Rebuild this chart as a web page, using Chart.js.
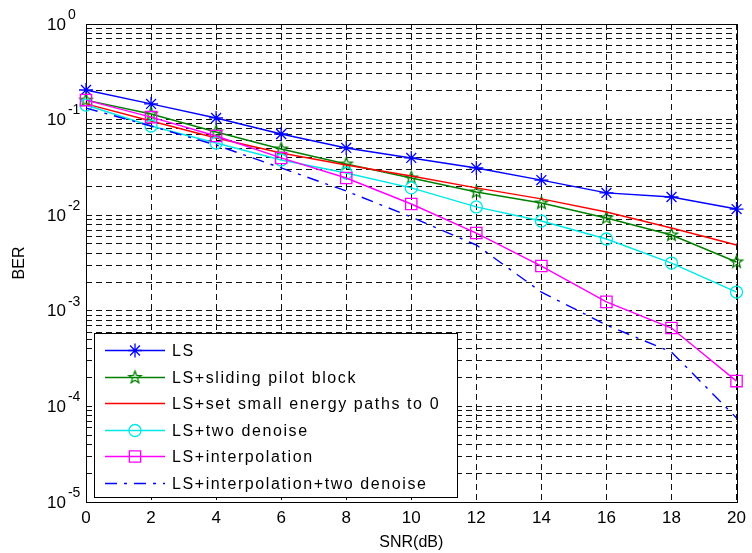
<!DOCTYPE html>
<html>
<head>
<meta charset="utf-8">
<title>BER vs SNR</title>
<script src="https://cdn.jsdelivr.net/npm/chart.js@4"></script>
<style>
    html, body { margin: 0; padding: 0; background: #fff; }
    #wrap { width: 752px; height: 553px; }
</style>
</head>
<body>
<div id="wrap"><canvas id="ber"></canvas></div>
<script>
    // SNR (dB) on the x axis
    const snr = [0, 2, 4, 6, 8, 10, 12, 14, 16, 18, 20];

    // BER values
    const berLS           = [0.204, 0.146, 0.104, 0.0707, 0.0505, 0.0397, 0.0312, 0.0233, 0.0171, 0.0155, 0.0116];
    const berSliding      = [0.160, 0.1145, 0.0742, 0.0492, 0.0343, 0.0245, 0.0175, 0.0134, 0.00935, 0.00621, 0.00324];
    const berSmallPaths   = [0.146, 0.0967, 0.0642, 0.0447, 0.0335, 0.0257, 0.0193, 0.0148, 0.0108, 0.00734, 0.00488];
    const berTwoDenoise   = [0.142, 0.0857, 0.0569, 0.0378, 0.0276, 0.0193, 0.0122, 0.00869, 0.00564, 0.00316, 0.00157];
    const berInterp       = [0.160, 0.106, 0.0673, 0.0397, 0.0245, 0.0131, 0.00651, 0.00294, 0.00124, 0.00066, 0.000184];
    const berInterpDenoise = [0.132, 0.0857, 0.0542, 0.0312, 0.0179, 0.00957, 0.00488, 0.00157, 0.00071, 0.00037, 0.0000757];

    // decades labelled on the y axis (10^e)
    const yDecades = [0, -1, -2, -3, -4, -5];

    const FONT = '"Liberation Sans", Arial, sans-serif';

    // hollow five pointed star, like matlab's 'p' marker
    function makePentagram(color, r) {
        const c = document.createElement('canvas');
        const s = Math.ceil(r * 2 + 4);
        c.width = s; c.height = s;
        const g = c.getContext('2d');
        g.strokeStyle = color;
        g.lineWidth = 1.3;
        g.beginPath();
        for (let k = 0; k < 10; k++) {
            const rad = k % 2 === 0 ? r : r * 0.42;
            const a = -Math.PI / 2 + k * Math.PI / 5;
            const px = s / 2 + rad * Math.cos(a), py = s / 2 + rad * Math.sin(a);
            if (k) g.lineTo(px, py); else g.moveTo(px, py);
        }
        g.closePath();
        g.stroke();
        return c;
    }

    // grid values: 1..9 in every decade
    const yGrid = [];
    for (let e = -5; e < 0; e++) {
        for (let m = 1; m < 10; m++) yGrid.push(m * Math.pow(10, e));
    }
    yGrid.push(1);

    function series(label, values, color, style, radius, dash) {
        return {
            label: label,
            data: snr.map((x, i) => ({x: x, y: values[i]})),
            borderColor: color,
            backgroundColor: 'rgba(0,0,0,0)',
            borderWidth: 1.4,
            borderDash: dash || [],
            pointStyle: style,
            pointRadius: radius,
            pointBorderColor: color,
            pointBackgroundColor: 'rgba(0,0,0,0)',
            pointBorderWidth: 1.3,
            tension: 0,
            clip: false
        };
    }

    const datasets = [
        series('LS', berLS, '#0000ff', 'star', 7),
        series('LS+sliding pilot block', berSliding, '#008000', makePentagram('#008000', 6.5), 6),
        series('LS+set small energy paths to 0', berSmallPaths, '#ff0000', 'circle', 0),
        series('LS+two denoise', berTwoDenoise, '#00e8e8', 'circle', 6),
        series('LS+interpolation', berInterp, '#ff00ff', 'rect', 8),
        series('LS+interpolation+two denoise', berInterpDenoise, '#0000ff', 'circle', 0, [12, 7, 3, 7])
    ];
    // matlab draws later lines on top
    datasets.forEach((d, i) => { d.order = datasets.length - i; });

    // frame around the axes, y labels with exponents and the boxed legend
    const decor = {
        id: 'decor',
        beforeDatasetsDraw(chart) {
            const {ctx, chartArea: a} = chart;
            ctx.save();
            ctx.strokeStyle = '#000';
            ctx.lineWidth = 1;
            ctx.strokeRect(Math.round(a.left) + 0.5, Math.round(a.top) + 0.5,
                Math.round(a.right - a.left), Math.round(a.bottom - a.top));
            ctx.restore();
        },
        afterDraw(chart) {
            const {ctx, chartArea: a} = chart;
            const ys = chart.scales.y;
            ctx.save();
            ctx.fillStyle = '#000';
            ctx.textAlign = 'left';
            ctx.textBaseline = 'middle';
            yDecades.forEach(e => {
                const y = ys.getPixelForValue(Math.pow(10, e));
                ctx.font = '17px ' + FONT;
                ctx.fillText('10', 47, y + 1);
                const w = ctx.measureText('10').width;
                ctx.font = '14px ' + FONT;
                ctx.fillText(e === 0 ? '0' : '-' + (-e), 47 + w + 2, y - 9);
            });

            // legend box
            const bx = a.left + 8, bw = 363, bh = 164;
            const by = a.bottom - 5 - bh;
            ctx.fillStyle = '#fff';
            ctx.fillRect(bx, by, bw, bh);
            ctx.strokeStyle = '#000';
            ctx.lineWidth = 1;
            ctx.strokeRect(Math.round(bx) + 0.5, Math.round(by) + 0.5, bw, bh);
            ctx.font = '16px ' + FONT;
            if ('letterSpacing' in ctx) ctx.letterSpacing = '1.6px';
            chart.data.datasets.forEach((d, i) => {
                const y = Math.round(by + 17 + i * 26.6) + 0.5;
                ctx.strokeStyle = d.borderColor;
                ctx.lineWidth = d.borderWidth;
                ctx.setLineDash(d.borderDash);
                ctx.beginPath();
                ctx.moveTo(bx + 11, y);
                ctx.lineTo(bx + 71, y);
                ctx.stroke();
                ctx.setLineDash([]);
                if (d.pointRadius > 0) {
                    ctx.fillStyle = 'rgba(0,0,0,0)';
                    ctx.lineWidth = d.pointBorderWidth;
                    Chart.helpers.drawPoint(ctx, {
                        pointStyle: d.pointStyle, radius: d.pointRadius,
                        rotation: 0, borderWidth: d.pointBorderWidth
                    }, bx + 41, y);
                }
                ctx.fillStyle = '#000';
                ctx.textBaseline = 'middle';
                ctx.fillText(d.label, bx + 78, y + 1);
            });
            ctx.restore();
        }
    };

    new Chart(document.getElementById('ber'), {
        type: 'line',
        data: {datasets: datasets},
        plugins: [decor],
        options: {
            responsive: true,
            maintainAspectRatio: false,
            animation: false,
            devicePixelRatio: 1,
            layout: {padding: {top: 24, right: 11, left: 0, bottom: 0}},
            plugins: {
                legend: {display: false},
                tooltip: {enabled: false}
            },
            scales: {
                x: {
                    type: 'linear',
                    min: 0,
                    max: 20,
                    ticks: {stepSize: 2, color: '#000', padding: 6, maxRotation: 0,
                        font: {family: FONT, size: 17}},
                    grid: {color: '#111', lineWidth: 1, drawTicks: false},
                    border: {display: false, dash: [6, 4]},
                    title: {display: true, text: 'SNR(dB)', color: '#000',
                        font: {family: FONT, size: 16}, padding: {top: 0, bottom: 1}},
                    afterFit: s => { s.height = 51; }
                },
                y: {
                    type: 'logarithmic',
                    min: 1e-5,
                    max: 1,
                    ticks: {display: false},
                    grid: {color: '#111', lineWidth: 1, drawTicks: false},
                    border: {display: false, dash: [6, 4]},
                    title: {display: true, text: 'BER', color: '#000',
                        font: {family: FONT, size: 16}, padding: {top: 10, bottom: 0}},
                    afterBuildTicks: s => { s.ticks = yGrid.map(v => ({value: v})); },
                    afterFit: s => { s.width = 86; }
                }
            }
        }
    });
</script>
</body>
</html>
